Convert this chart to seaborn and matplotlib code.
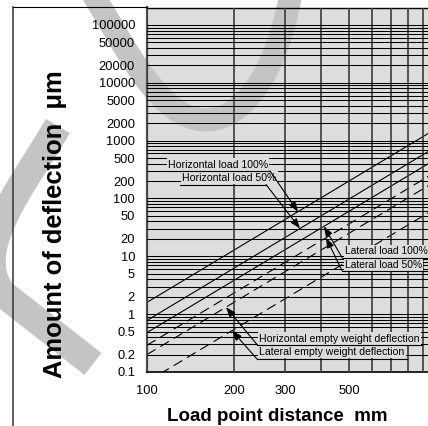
import numpy as np
import pandas as pd
import matplotlib
matplotlib.use("Agg")
import matplotlib.pyplot as plt
import seaborn as sns
from matplotlib.ticker import FixedLocator, FixedFormatter, NullFormatter
from matplotlib.lines import Line2D
from matplotlib.path import Path
from matplotlib.patches import PathPatch

# ---------------- data ----------------
distance_mm = [100, 1000]
horizontal_load_100 = [1.6, 1600]
horizontal_load_50 = [0.78, 780]
lateral_load_100 = [0.48, 480]
lateral_load_50 = [0.29, 290]
horizontal_empty_weight = [0.2, 200]
lateral_empty_weight = [0.068, 68]

series_names = ["Horizontal load 100%", "Horizontal load 50%",
                "Lateral load 100%", "Lateral load 50%",
                "Horizontal empty weight deflection",
                "Lateral empty weight deflection"]
series_values = [horizontal_load_100, horizontal_load_50,
                 lateral_load_100, lateral_load_50,
                 horizontal_empty_weight, lateral_empty_weight]
series_dashed = [False, False, False, True, True, True]

y_tick_values = [0.1, 0.2, 0.5, 1, 2, 5, 10, 20, 50, 100, 200, 500, 1000,
                 2000, 5000, 10000, 20000, 50000, 100000]
y_tick_labels = ["0.1", "0.2", "0.5", "1", "2", "5", "10", "20", "50", "100",
                 "200", "500", "1000", "2000", "5000", "10000", "20000",
                 "50000", "100000"]
x_tick_values = [100, 200, 300, 500]
x_tick_labels = ["100", "200", "300", "500"]
x_minor_values = [400, 600, 700, 800, 900]

x_label = "Load point distance  mm"
y_label = "Amount of deflection  \u03bcm"

# ---------------- style ----------------
plt.rcParams["font.family"] = ["Liberation Sans", "DejaVu Sans"]
W, H = 428, 426
BG = "#dddddd"
WM = "#c4c4c4"

fig = plt.figure(figsize=(W / 100, H / 100), dpi=100)
fig.patch.set_facecolor("white")
ax = fig.add_axes([147 / W, 1 - 372 / H, 289 / W, (372 - 7.5) / H])
ax.set_facecolor(BG)
ax.set_axisbelow(False)

rows = []
for name, vals in zip(series_names, series_values):
    for d, v in zip(distance_mm, vals):
        rows.append({"distance": d, "deflection": v, "series": name})
df = pd.DataFrame(rows)
dash_map = {n: ((9, 5) if dz else "") for n, dz in zip(series_names, series_dashed)}

sns.lineplot(data=df, x="distance", y="deflection", style="series",
             dashes=dash_map, color="black", lw=0.8, legend=False,
             estimator=None, sort=False, ax=ax, zorder=2)

ax.set_xscale("log")
ax.set_yscale("log")
ax.set_xlim(100, 1000)
ax.set_ylim(0.1, 200000)

y_minor = [d * k for d in [0.1, 1, 10, 100, 1000, 10000] for k in [3, 4, 6, 7, 8, 9]]
ax.xaxis.set_major_locator(FixedLocator(x_tick_values))
ax.xaxis.set_major_formatter(FixedFormatter(x_tick_labels))
ax.xaxis.set_minor_locator(FixedLocator(x_minor_values))
ax.xaxis.set_minor_formatter(NullFormatter())
ax.yaxis.set_major_locator(FixedLocator(y_tick_values))
ax.yaxis.set_major_formatter(FixedFormatter(y_tick_labels))
ax.yaxis.set_minor_locator(FixedLocator(y_minor))
ax.yaxis.set_minor_formatter(NullFormatter())

ax.grid(True, which="both", axis="y", color="black", lw=0.75)
ax.grid(True, which="both", axis="x", color="#3c3c3c", lw=1.2)
ax.tick_params(which="both", length=0)
ax.tick_params(axis="y", pad=8.6, labelsize=9.3, colors="black")
ax.tick_params(axis="x", pad=9.4, labelsize=9.3, colors="black")

ax.spines["left"].set_color("#555555")
ax.spines["left"].set_linewidth(1.6)
ax.spines["bottom"].set_color("black")
ax.spines["bottom"].set_linewidth(1.2)
ax.spines["top"].set_color("black")
ax.spines["top"].set_linewidth(1.0)

ax.set_xlabel(x_label, fontsize=13.5, fontweight="bold")
ax.xaxis.label.set_va("baseline")
ax.xaxis.set_label_coords((277.5 - 147) / 289, (372 - 421) / 364.5)
ax.set_ylabel(y_label, fontsize=18.4, fontweight="bold")
ax.yaxis.label.set_va("center")
ax.yaxis.set_label_coords((55 - 147) / 289, (372 - 224) / 364.5)

# ---------------- watermark ----------------
def ff(p):
    return (p[0] / W, 1 - p[1] / H)

top_verts = [(88, -14), (128, 52), (160, 119), (205, 120),
             (250, 121), (282, 55), (292, -14)]
top_codes = [Path.MOVETO, Path.CURVE4, Path.CURVE4, Path.CURVE4,
             Path.CURVE4, Path.CURVE4, Path.CURVE4]
low_verts = [(58, 126), (20, 190), (-30, 250), (2, 293), (93, 364)]
low_codes = [Path.MOVETO, Path.CURVE4, Path.CURVE4, Path.CURVE4, Path.LINETO]
for verts, codes, lw in [(top_verts, top_codes, 16.5), (low_verts, low_codes, 20)]:
    path = Path([ff(v) for v in verts], codes)
    patch = PathPatch(path, transform=fig.transFigure, fill=False, ec=WM,
                      lw=lw, capstyle="butt", joinstyle="round",
                      clip_on=False, zorder=1)
    ax.add_patch(patch)

# frame lines
fig.add_artist(Line2D([13 / W, 147 / W], [1 - 7 / H, 1 - 7 / H], color="black", lw=0.8))
fig.add_artist(Line2D([13 / W, 13 / W], [1 - 7 / H, 0], color="#333333", lw=1.1))

# ---------------- labels with leaders ----------------
fig.canvas.draw()
inv = ax.transData.inverted()

def px2data(x, y):
    return tuple(inv.transform((x, H - y)))

def series_at(vals, dist):
    lx = np.log10(distance_mm)
    ly = np.log10(vals)
    return 10 ** np.interp(np.log10(dist), lx, ly)

# (series index, text left px, text center px, underline y, underline x0, x1, corner x, tip x)
label_specs = [
    (0, 168, 164.5, 171.0, 166, 270, 270, 298),
    (1, 182, 177.5, 184.5, 180, 266, 266, 300),
    (2, 345, 251.5, 257.5, 342, 432, 342, 324),
    (3, 345, 264.5, 270.5, 342, 432, 342, 326),
    (4, 259, 338.5, 344.5, 257, 422, 257, 226),
    (5, 259, 352.0, 359.0, 257, 407, 257, 232),
]
for idx, tx, ty, uy, ux0, ux1, cx, tipx in label_specs:
    p = px2data(tx, ty)
    fs = 7.4 if idx in (2, 3) else 7.6
    ax.text(p[0], p[1], series_names[idx], fontsize=fs, ha="left",
            va="center", zorder=4, clip_on=False,
            bbox=dict(boxstyle="square,pad=0.12", fc=BG, ec="none"))
    a = px2data(ux0, uy)
    b = px2data(ux1, uy)
    ax.plot([a[0], b[0]], [a[1], b[1]], color="black", lw=0.8, zorder=5,
            clip_on=True)
    corner = px2data(cx, uy)
    tip_l = px2data(tipx, 0)[0]
    tip_v = series_at(series_values[idx], tip_l)
    ax.annotate("", xy=(tip_l, tip_v), xytext=corner,
                arrowprops=dict(arrowstyle="-|>,head_length=0.6,head_width=0.22",
                                color="black", lw=0.8, shrinkA=0, shrinkB=0,
                                mutation_scale=10),
                zorder=5)

fig.savefig("out.png", dpi=100)
